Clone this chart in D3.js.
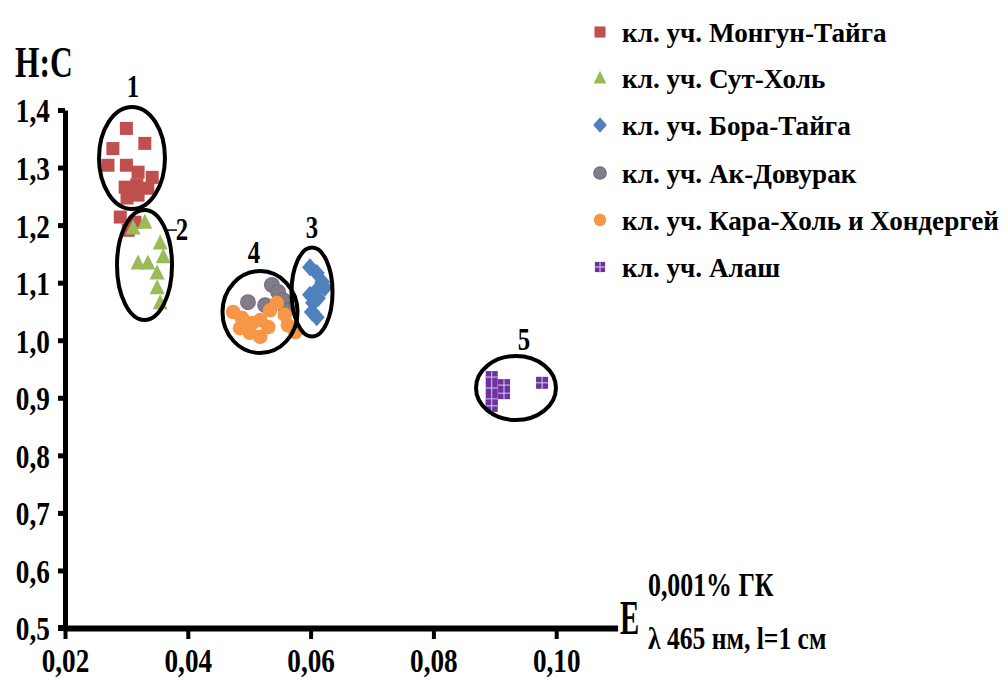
<!DOCTYPE html>
<html>
<head>
<meta charset="utf-8">
<script src="https://cdn.jsdelivr.net/npm/d3@7"></script>
<style>
  body { margin: 0; background: #ffffff; }
  text { font-family: "Liberation Serif", "Times New Roman", serif; font-weight: bold; fill: #000; }
</style>
</head>
<body>
<svg id="chart" width="1006" height="680"></svg>
<script>
// ---- data: E (0.001% HA, 465 nm, l = 1 cm) vs H:C ratio ----
const seriesNames = [
  "кл. уч. Монгун-Тайга",
  "кл. уч. Сут-Холь",
  "кл. уч. Бора-Тайга",
  "кл. уч. Ак-Довурак",
  "кл. уч. Кара-Холь и Хондергей",
  "кл. уч. Алаш"
];

const mongunE  = [0.0300, 0.0330, 0.0278, 0.0270, 0.0300, 0.0319, 0.0342, 0.0298, 0.0317, 0.0335, 0.0301, 0.0319, 0.0290, 0.0314, 0.0303];
const mongunHC = [1.368, 1.342, 1.333, 1.304, 1.304, 1.292, 1.283, 1.266, 1.270, 1.264, 1.247, 1.252, 1.214, 1.205, 1.191];

const sutE  = [0.0330, 0.0311, 0.0355, 0.0360, 0.0319, 0.0335, 0.0350, 0.0350, 0.0355];
const sutHC = [1.205, 1.195, 1.169, 1.145, 1.134, 1.134, 1.117, 1.091, 1.065];

const boraE  = [0.0599, 0.0610, 0.0619, 0.0623, 0.0610, 0.0599, 0.0612, 0.0604, 0.0602, 0.0610];
const boraHC = [1.127, 1.117, 1.101, 1.091, 1.087, 1.079, 1.073, 1.065, 1.049, 1.040];

const akE  = [0.0498, 0.0537, 0.0547, 0.0555, 0.0560, 0.0526];
const akHC = [1.066, 1.096, 1.084, 1.070, 1.052, 1.061];

const karaE  = [0.0474, 0.0488, 0.0485, 0.0505, 0.0501, 0.0518, 0.0518, 0.0531, 0.0534, 0.0545, 0.0558, 0.0563, 0.0575];
const karaHC = [1.049, 1.039, 1.021, 1.030, 1.013, 1.035, 1.006, 1.023, 1.052, 1.065, 1.044, 1.026, 1.014];

const alashE  = [0.0895, 0.0895, 0.0915, 0.0915, 0.0895, 0.0895, 0.0977];
const alashHC = [0.936, 0.917, 0.922, 0.908, 0.898, 0.886, 0.926];

// axis ticks
const xTicks = [0.02, 0.04, 0.06, 0.08, 0.10];
const xTickLabels = ["0,02", "0,04", "0,06", "0,08", "0,10"];
const yTicks = [0.5, 0.6, 0.7, 0.8, 0.9, 1.0, 1.1, 1.2, 1.3, 1.4];
const yTickLabels = ["0,5", "0,6", "0,7", "0,8", "0,9", "1,0", "1,1", "1,2", "1,3", "1,4"];

// cluster outlines (centre and semi-axes in data units) and their numbers
const clusterNames = ["1", "2", "3", "4", "5"];
const clusterCE = [0.03091, 0.03295, 0.06023, 0.05176, 0.09345];
const clusterCH = [1.3166, 1.1306, 1.0837, 1.0490, 0.9170];
const clusterRE = [0.00537, 0.00448, 0.00334, 0.00611, 0.00651];
const clusterRH = [0.0886, 0.0955, 0.0773, 0.0712, 0.0556];
const clusterLabelE = [0.03107, 0.03906, 0.06023, 0.05078, 0.09475];
const clusterLabelH = [1.4225, 1.1740, 1.1776, 1.1340, 0.9830];

// ---- drawing ----
const svg = d3.select("#chart");
const x = d3.scaleLinear().domain([0.02, 0.11]).range([65, 617.6]);
const y = d3.scaleLinear().domain([0.5, 1.4]).range([628, 110]);

const colors = ["#c0504d", "#9bbb59", "#4f81bd", "#7f7f7f", "#f79646", "#7030a0"];
const shapes = ["square", "triangle", "diamond", "circle", "circle", "crossSquare"];

function pts(es, hs) { return es.map((e, i) => ({ e: e, h: hs[i] })); }
const series = [
  pts(mongunE, mongunHC),
  pts(sutE, sutHC),
  pts(boraE, boraHC),
  pts(akE, akHC),
  pts(karaE, karaHC),
  pts(alashE, alashHC)
];

// draws one marker centred at the origin of group g
function drawMarker(g, k, s) {
  const c = colors[k];
  s = s || 1;
  switch (shapes[k]) {
    case "square":
      g.append("rect").attr("x", -6.5 * s).attr("y", -6.5 * s).attr("width", 13 * s).attr("height", 13 * s).attr("fill", c);
      break;
    case "triangle":
      g.append("path").attr("d", `M0,${-8.5 * s}L${7.5 * s},${6.5 * s}L${-7.5 * s},${6.5 * s}Z`).attr("fill", c);
      break;
    case "diamond":
      g.append("path").attr("d", `M0,${-9 * s}L${8 * s},0L0,${9 * s}L${-8 * s},0Z`).attr("fill", c);
      break;
    case "circle":
      g.append("circle").attr("r", 7.3 * s).attr("fill", c)
        .attr("stroke", k === 3 ? "#8064a2" : "none").attr("stroke-width", 1.3);
      break;
    case "crossSquare": {
      const h = 6 * s;
      g.append("rect").attr("x", -h).attr("y", -h).attr("width", 2 * h).attr("height", 2 * h).attr("fill", c);
      g.append("line").attr("x1", 0).attr("x2", 0).attr("y1", -h).attr("y2", h).attr("stroke", "#c8d4ee").attr("stroke-width", 1);
      g.append("line").attr("x1", -h).attr("x2", h).attr("y1", 0).attr("y2", 0).attr("stroke", "#c8d4ee").attr("stroke-width", 1);
      break;
    }
  }
}

// points
series.forEach((data, k) => {
  svg.append("g").selectAll("g").data(data).join("g")
    .attr("transform", d => `translate(${x(d.e)},${y(d.h)})`)
    .each(function () { drawMarker(d3.select(this), k); });
});

// cluster ellipses
const clusters = clusterNames.map((n, i) => ({
  name: n, ce: clusterCE[i], ch: clusterCH[i], re: clusterRE[i], rh: clusterRH[i],
  le: clusterLabelE[i], lh: clusterLabelH[i]
}));
svg.append("g").selectAll("ellipse").data(clusters).join("ellipse")
  .attr("cx", d => x(d.ce)).attr("cy", d => y(d.ch))
  .attr("rx", d => x(d.ce + d.re) - x(d.ce))
  .attr("ry", d => y(d.ch - d.rh) - y(d.ch))
  .attr("fill", "none").attr("stroke", "#000").attr("stroke-width", 4);

// short leader next to the "2"
svg.append("line")
  .attr("x1", x(clusterCE[1] + clusterRE[1] * 0.75)).attr("x2", x(clusterLabelE[1]) - 5)
  .attr("y1", y(clusterLabelH[1]) - 10).attr("y2", y(clusterLabelH[1]) - 10)
  .attr("stroke", "#000").attr("stroke-width", 1.5);

// text helper: horizontally condensed label
function label(px, py, str, size, sx, anchor) {
  const g = svg.append("g").attr("transform", `translate(${px},${py}) scale(${sx},1)`);
  g.append("text").attr("text-anchor", anchor || "start").style("font-size", size + "px").text(str);
  return g;
}

clusters.forEach(d => label(x(d.le), y(d.lh), d.name, 31, 0.8, "middle"));

// axes
const yAxis = svg.append("g").attr("transform", `translate(${x(0.02)},0)`)
  .call(d3.axisLeft(y).tickValues(yTicks).tickFormat((d, i) => yTickLabels[i]).tickSize(7).tickSizeOuter(0));
yAxis.select(".domain").attr("stroke", "#000").attr("stroke-width", 5);
yAxis.selectAll(".tick line").attr("stroke", "#000").attr("stroke-width", 5);
yAxis.selectAll(".tick text")
  .attr("x", -19).attr("dy", "0.35em")
  .attr("transform", "scale(0.8,1)")
  .style("font-size", "34px").style("font-family", "Liberation Serif").style("font-weight", "bold");

const xAxis = svg.append("g").attr("transform", `translate(0,${y(0.5)})`)
  .call(d3.axisBottom(x).tickValues(xTicks).tickFormat((d, i) => xTickLabels[i]).tickSize(11).tickSizeOuter(0));
xAxis.select(".domain").attr("stroke", "#000").attr("stroke-width", 6);
xAxis.selectAll(".tick line").attr("stroke", "#000").attr("stroke-width", 4);
xAxis.selectAll(".tick text")
  .attr("y", 44).attr("dy", 0)
  .attr("transform", "scale(0.8,1)")
  .style("font-size", "34px").style("font-family", "Liberation Serif").style("font-weight", "bold");
// extend the base line a little left of the vertical axis
svg.append("line").attr("x1", x(0.02) - 7).attr("x2", x(0.02)).attr("y1", y(0.5)).attr("y2", y(0.5))
  .attr("stroke", "#000").attr("stroke-width", 6);

// axis titles
label(15, 77, "H:C", 45, 0.7);
label(620, 634, "E", 48, 0.6);
label(648, 596, "0,001% ГК", 34, 0.76);
label(648, 649, "λ 465 нм, l=1 см", 32, 0.8);

// legend
const legendY = [32, 78, 125, 173, 220, 267];
seriesNames.forEach((name, k) => {
  const g = svg.append("g").attr("transform", `translate(600,${legendY[k]})`);
  drawMarker(g, k, 0.85);
  label(622, legendY[k] + 10, name, 28, 0.97);
});
</script>
</body>
</html>
